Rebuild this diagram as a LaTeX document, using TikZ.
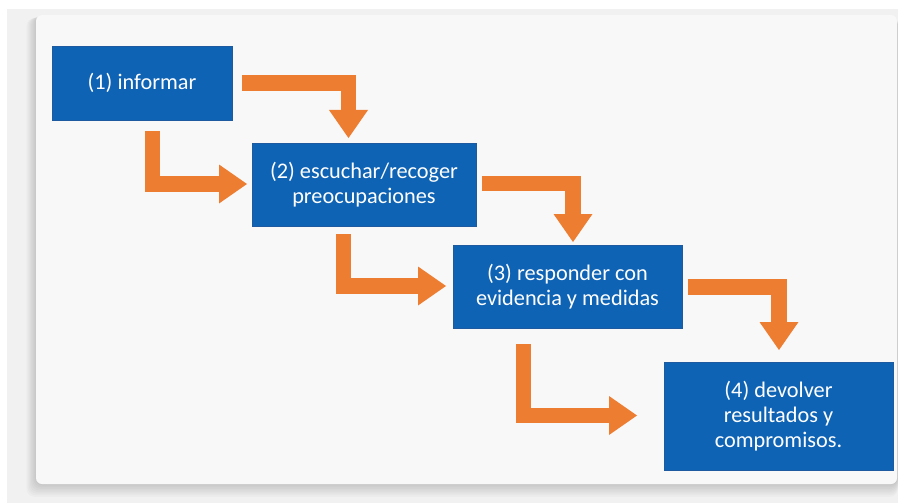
\documentclass[tikz,border=0pt]{standalone}
\usepackage{fontspec}
\setmainfont{Carlito}
\usetikzlibrary{arrows.meta,calc}

\definecolor{boxblue}{RGB}{14,99,181}
\definecolor{boxedge}{RGB}{30,90,160}
\definecolor{flow}{RGB}{237,125,49}
\definecolor{canvas}{RGB}{241,241,241}
\definecolor{card}{RGB}{248,248,248}

\tikzset{
  stepbox/.style={rectangle, fill=boxblue, draw=boxedge, line width=0.6pt,
    text=white, align=center, inner sep=0pt,
    font=\fontsize{22.3}{25}\selectfont},
  flowarrow/.style={draw=flow, line width=15.5pt, line join=miter,
    line cap=butt,
    -{Triangle[width=39pt,length=28pt,line width=0pt,fill=flow]}},
}

\begin{document}
\begin{tikzpicture}[x=1pt,y=-1pt]
  \useasboundingbox (0,0) rectangle (898,503);

  % page and card behind the diagram
  \fill[white] (0,0) rectangle (898,503);
  \fill[canvas] (7,9) rectangle (898,503);
  \foreach \k in {1,...,8}{
    \fill[black, opacity=0.02, rounded corners=8pt]
      (36-\k*1.2,15+\k*0.4) rectangle (898,484+\k*1.6);
  }
  \fill[card, rounded corners=6pt] (36,15) rectangle (897,484);

  % steps
  \node[stepbox, minimum width=180pt, minimum height=74pt]  (b1) at (142,83)    {(1) informar};
  \node[stepbox, minimum width=224pt, minimum height=83pt]  (b2) at (364,184.5) {(2) escuchar/recoger\\preocupaciones};
  \node[stepbox, minimum width=229pt, minimum height=83pt]  (b3) at (567.5,286.5) {(3) responder con\\evidencia y medidas};
  \node[stepbox, minimum width=229pt, minimum height=108pt] (b4) at (778.5,416) {(4) devolver\\resultados y\\compromisos.};

  % arrow end points
  \coordinate (a1s) at (242,83);    \coordinate (a1e) at (348.5,138);
  \coordinate (b1s) at (152.5,131); \coordinate (b1e) at (247,184);
  \coordinate (a2s) at (482,183.5); \coordinate (a2e) at (573,242);
  \coordinate (b2s) at (343.5,234); \coordinate (b2e) at (446,286);
  \coordinate (a3s) at (688,287);   \coordinate (a3e) at (779,350);
  \coordinate (b3s) at (523.5,344); \coordinate (b3e) at (637,415.5);

  % elbow arrows between the steps
  \draw[flowarrow] (a1s) -| (a1e);
  \draw[flowarrow] (b1s) |- (b1e);
  \draw[flowarrow] (a2s) -| (a2e);
  \draw[flowarrow] (b2s) |- (b2e);
  \draw[flowarrow] (a3s) -| (a3e);
  \draw[flowarrow] (b3s) |- (b3e);
\end{tikzpicture}
\end{document}
